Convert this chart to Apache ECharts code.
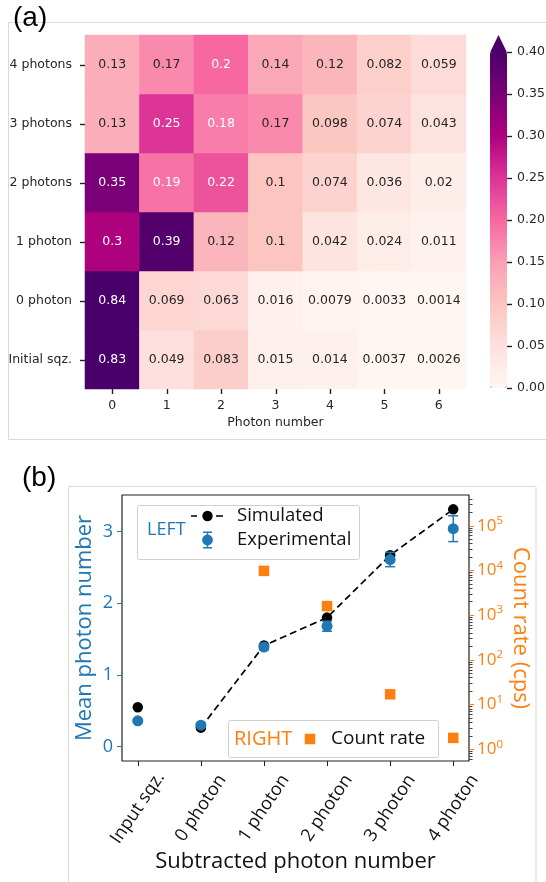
<!DOCTYPE html>
<html><head><meta charset="utf-8">
<script src="https://cdn.jsdelivr.net/npm/echarts@6/dist/echarts.min.js"></script>
<style>html,body{margin:0;padding:0;background:#fff}#c{width:546px;height:882px}</style>
</head><body><div id="c"></div>
<script>
// ---------- Panel (a) data ----------
const photonNumbers = ['0', '1', '2', '3', '4', '5', '6'];
const conditions = ['Initial sqz.', '0 photon', '1 photon', '2 photons', '3 photons', '4 photons'];
const probInitial = [0.83, 0.049, 0.083, 0.015, 0.014, 0.0037, 0.0026];
const prob0 = [0.84, 0.069, 0.063, 0.016, 0.0079, 0.0033, 0.0014];
const prob1 = [0.3, 0.39, 0.12, 0.1, 0.042, 0.024, 0.011];
const prob2 = [0.35, 0.19, 0.22, 0.1, 0.074, 0.036, 0.02];
const prob3 = [0.13, 0.25, 0.18, 0.17, 0.098, 0.074, 0.043];
const prob4 = [0.13, 0.17, 0.2, 0.14, 0.12, 0.082, 0.059];
const colorbarTicks = [0, 0.05, 0.1, 0.15, 0.2, 0.25, 0.3, 0.35, 0.4];

// ---------- Panel (b) data ----------
const subtracted = ['Input sqz.', '0 photon', '1 photon', '2 photon', '3 photon', '4 photon'];
const simulated = [0.55, 0.265, 1.41, 1.80, 2.67, 3.31];
const experimental = [0.36, 0.30, 1.39, 1.68, 2.61, 3.04];
const expError = [0.02, 0.02, 0.04, 0.07, 0.10, 0.18];
const countRate = [null, null, 9800, 1600, 17, 1.8];
const leftTicks = [0, 1, 2, 3];
const rightTicks = [1, 10, 100, 1000, 10000, 100000];

const RDPU = ['#fff7f3', '#fde0dd', '#fcc5c0', '#fa9fb5', '#f768a1', '#dd3497', '#ae017e', '#7a0177', '#49006a'];
const DJ = 'DejaVu Sans';
const SEG = '"Open Sans", "Noto Sans", sans-serif';
const BLUE = '#1f77b4', ORANGE = '#ff7f0e';
const cbMin = colorbarTicks[0], cbMax = colorbarTicks[colorbarTicks.length - 1];

const heatRows = [probInitial, prob0, prob1, prob2, prob3, prob4];
const heatData = [];
heatRows.forEach((row, yi) => row.forEach((v, xi) => {
  heatData.push({ value: [xi, yi, v], label: { color: v >= 0.18 ? '#ffffff' : '#262626' } });
}));

const minorTicks = [];
for (let e = -1; e <= 5; e++) for (let m = 2; m <= 9; m++) {
  const v = m * Math.pow(10, e);
  if (v > 0.547 && v < 4.89e5) minorTicks.push(v);
}

const anchors = (w, h) => `M0 0 L0.01 0 L0 0.01 Z M${w} ${h} L${w - 0.01} ${h} L${w} ${h - 0.01} Z`;
const circ = (cx, cy, r) => `M${cx + r} ${cy} A${r} ${r} 0 1 1 ${cx - r} ${cy} A${r} ${r} 0 1 1 ${cx + r} ${cy} Z`;
const simIcon = 'path://' + anchors(41, 17) +
  ' M0 7.75 H6 V9.25 H0 Z M25 7.75 H32 V9.25 H25 Z ' + circ(16.5, 8.5, 5.2);
const expIcon = 'path://' + anchors(41, 17) +
  ' M12 0 H21 V1.5 H12 Z M15.75 0 H17.25 V17 H15.75 Z M12 15.5 H21 V17 H12 Z ' + circ(16.5, 8.5, 5.4);
const sqIcon = 'path://' + anchors(32, 17) + ' M10.75 3.25 H21.25 V13.75 H10.75 Z';

const noLine = { show: false, onZero: false };

// tick marks drawn through the axes' own scales (side: 'bottom' | 'left' | 'right')
function tickSeries(xIdx, yIdx, data, side) {
  return {
    type: 'custom', xAxisIndex: xIdx, yAxisIndex: yIdx, data, clip: false, silent: true, z: 20,
    encode: { x: 0, y: 1 },
    renderItem: (params, api) => {
      const c = api.coord([api.value(0), api.value(1)]);
      const cs = params.coordSys;
      const L = 5;
      const px = Math.round(c[0]) + 0.5, py = Math.round(c[1]) + 0.5;
      let shape;
      if (side === 'bottom') shape = { x1: px, y1: cs.y + cs.height, x2: px, y2: cs.y + cs.height + L };
      else if (side === 'left') shape = { x1: cs.x - L, y1: py, x2: cs.x, y2: py };
      else shape = { x1: cs.x + cs.width, y1: py, x2: cs.x + cs.width + L, y2: py };
      return { type: 'line', shape, style: { stroke: '#222222', lineWidth: 1.4 } };
    }
  };
}

const chart = echarts.init(document.getElementById('c'), null, { renderer: 'canvas' });
chart.setOption({
  animation: false,
  backgroundColor: '#ffffff',
  grid: [
    { left: 85, top: 35, width: 381, height: 354, outerBoundsMode: 'none', containLabel: false },
    { left: 490, top: 52, width: 17, height: 336, outerBoundsMode: 'none', containLabel: false },
    { left: 122, top: 495, width: 347, height: 266, outerBoundsMode: 'none', containLabel: false,
      show: true, borderColor: '#222', borderWidth: 1.2, backgroundColor: 'transparent' }
  ],
  xAxis: [
    { type: 'category', gridIndex: 0, position: 'bottom', data: photonNumbers,
      axisLine: noLine, splitLine: { show: false }, axisTick: { show: false },
      axisLabel: { fontFamily: DJ, fontSize: 12.5, color: '#262626', margin: 10 },
      name: 'Photon number', nameLocation: 'middle', nameGap: 27.5, nameMoveOverlap: false,
      nameTextStyle: { fontFamily: DJ, fontSize: 12.5, color: '#262626' } },
    { type: 'value', gridIndex: 1, show: false, min: 0, max: 1, axisLine: noLine },
    { type: 'value', gridIndex: 2, position: 'bottom', min: -0.25, max: 5.25,
      axisLine: noLine, splitLine: { show: false },
      axisTick: { show: true, customValues: subtracted.map((_, i) => i), length: 5, lineStyle: { color: '#222' } },
      axisLabel: { customValues: subtracted.map((_, i) => i), formatter: v => subtracted[Math.round(v)],
        rotate: 56, align: 'center', verticalAlign: 'middle', margin: 47,
        fontFamily: SEG, fontSize: 18, color: '#111' },
      name: 'Subtracted photon number', nameLocation: 'middle', nameGap: 90, nameMoveOverlap: false,
      nameTextStyle: { fontFamily: SEG, fontSize: 22, color: '#111' } }
  ],
  yAxis: [
    { type: 'category', gridIndex: 0, position: 'left', data: conditions,
      axisLine: noLine, splitLine: { show: false }, axisTick: { show: false },
      axisLabel: { fontFamily: DJ, fontSize: 12.5, color: '#262626', margin: 13 } },
    { type: 'value', gridIndex: 1, position: 'right', min: cbMin, max: cbMax,
      axisLine: noLine, splitLine: { show: false }, axisTick: { show: false },
      axisLabel: { customValues: colorbarTicks, formatter: v => v.toFixed(2), fontFamily: DJ, fontSize: 12.5, color: '#262626', margin: 10 } },
    { type: 'value', gridIndex: 2, position: 'left', min: -0.2, max: 3.51,
      axisLine: noLine, splitLine: { show: false },
      axisTick: { show: true, customValues: leftTicks, length: 5, lineStyle: { color: BLUE } },
      axisLabel: { customValues: leftTicks, fontFamily: SEG, fontSize: 18, color: BLUE, margin: 9 },
      name: 'Mean photon number', nameLocation: 'middle', nameGap: 26, nameMoveOverlap: false,
      nameTextStyle: { fontFamily: SEG, fontSize: 22, color: BLUE } },
    { type: 'log', gridIndex: 2, position: 'right', logBase: 10, min: 0.547, max: 4.89e5,
      axisLine: noLine, splitLine: { show: false },
      axisTick: { show: true, customValues: rightTicks, length: 5, lineStyle: { color: ORANGE } },
      axisLabel: { customValues: rightTicks, margin: 8,
        formatter: v => '{b|10}{s|' + Math.round(Math.log10(v)) + '}',
        rich: {
          b: { fontFamily: SEG, fontSize: 17, color: ORANGE, lineHeight: 22 },
          s: { fontFamily: SEG, fontSize: 11.5, color: ORANGE, lineHeight: 12, verticalAlign: 'top' }
        } },
      name: 'Count rate (cps)', nameLocation: 'middle', nameRotate: -90, nameGap: 40, nameMoveOverlap: false,
      nameTextStyle: { fontFamily: SEG, fontSize: 22, color: ORANGE } },
    { type: 'log', gridIndex: 2, position: 'right', logBase: 10, min: 0.547, max: 4.89e5,
      axisLine: noLine, splitLine: { show: false }, axisLabel: { show: false },
      axisTick: { show: true, customValues: minorTicks, length: 3.5, lineStyle: { color: '#444', width: 1 } } }
  ],
  visualMap: {
    type: 'continuous', seriesIndex: 0, dimension: 2, min: cbMin, max: cbMax,
    calculable: false, show: true, left: 490, top: 52, padding: 0, itemWidth: 17, itemHeight: 336,
    inRange: { color: RDPU }, outOfRange: { color: ['#49006a'] }, hoverLink: false
  },
  legend: [
    { left: 191, top: 506, orient: 'vertical', padding: 0, itemGap: 4, itemWidth: 41, itemHeight: 17,
      selectedMode: false, z: 8,
      data: [{ name: 'Simulated', icon: simIcon }, { name: 'Experimental', icon: expIcon }],
      textStyle: { fontFamily: SEG, fontSize: 18.5, color: '#111', lineHeight: 20 } },
    { left: 294, top: 729, padding: 0, itemWidth: 32, itemHeight: 17, selectedMode: false, z: 8,
      data: [{ name: 'Count rate', icon: sqIcon }],
      textStyle: { fontFamily: SEG, fontSize: 19, color: '#111', lineHeight: 20 } }
  ],
  series: [
    { type: 'heatmap', xAxisIndex: 0, yAxisIndex: 0, data: heatData,
      label: { show: true, fontFamily: DJ, fontSize: 12.5, formatter: p => String(p.value[2]) },
      itemStyle: { borderWidth: 0 }, emphasis: { disabled: true } },
    tickSeries(0, 0, photonNumbers.map((_, i) => [i, 0]), 'bottom'),
    tickSeries(0, 0, conditions.map((_, i) => [0, i]), 'left'),
    tickSeries(1, 1, colorbarTicks.map(v => [0, v]), 'right'),
    { type: 'line', name: 'Simulated', xAxisIndex: 2, yAxisIndex: 2,
      data: simulated.slice(1).map((v, i) => [i + 1, v]),
      lineStyle: { color: '#000', width: 1.7, type: [7, 4] },
      symbol: 'circle', symbolSize: 10.5, itemStyle: { color: '#000' }, z: 3 },
    { type: 'scatter', name: 'Simulated input', xAxisIndex: 2, yAxisIndex: 2,
      data: [[0, simulated[0]]], symbolSize: 10.5, itemStyle: { color: '#000', opacity: 1 }, z: 3 },
    { type: 'custom', name: 'Experimental error', xAxisIndex: 2, yAxisIndex: 2,
      data: experimental.map((v, i) => [i, v - expError[i], v + expError[i]]),
      encode: { x: 0, y: [1, 2] }, z: 4,
      renderItem: (params, api) => {
        const x = api.value(0);
        const lo = api.coord([x, api.value(1)]);
        const hi = api.coord([x, api.value(2)]);
        const cw = 5;
        const st = { stroke: BLUE, lineWidth: 1.5 };
        return { type: 'group', children: [
          { type: 'line', shape: { x1: lo[0], y1: lo[1], x2: hi[0], y2: hi[1] }, style: st },
          { type: 'line', shape: { x1: lo[0] - cw, y1: lo[1], x2: lo[0] + cw, y2: lo[1] }, style: st },
          { type: 'line', shape: { x1: hi[0] - cw, y1: hi[1], x2: hi[0] + cw, y2: hi[1] }, style: st }
        ] };
      } },
    { type: 'scatter', name: 'Experimental', xAxisIndex: 2, yAxisIndex: 2,
      data: experimental.map((v, i) => [i, v]), symbolSize: 11,
      itemStyle: { color: BLUE, opacity: 1 }, z: 5 },
    { type: 'scatter', name: 'Count rate', xAxisIndex: 2, yAxisIndex: 3,
      data: countRate.map((v, i) => (v == null ? null : [i, v])).filter(d => d),
      symbol: 'rect', symbolSize: 10.5, itemStyle: { color: ORANGE, opacity: 1 }, z: 4 }
  ],
  graphic: [
    { type: 'rect', shape: { x: 8.5, y: 22.5, width: 540, height: 417 }, style: { fill: 'none', stroke: '#d9d9d9', lineWidth: 1 }, z: 0, silent: true },
    { type: 'rect', shape: { x: 68.5, y: 486.5, width: 467.5, height: 410 }, style: { fill: 'none', stroke: '#d9d9d9', lineWidth: 1 }, z: 0, silent: true },
    { type: 'polygon', shape: { points: [[490, 52.5], [498.5, 35], [507, 52.5]] }, style: { fill: '#49006a' }, silent: true },
    { type: 'text', x: 13, y: 18, style: { text: '(a)', font: '28px "Liberation Sans", Arial, sans-serif', fill: '#000', verticalAlign: 'middle' } },
    { type: 'text', x: 22, y: 478.5, style: { text: '(b)', font: '28px "Liberation Sans", Arial, sans-serif', fill: '#000', verticalAlign: 'middle' } },
    { type: 'rect', shape: { x: 137.5, y: 505.5, width: 222, height: 54, r: 2 }, style: { fill: 'rgba(255,255,255,0.85)', stroke: '#d0d0d0', lineWidth: 1 }, z: 7, silent: true },
    { type: 'text', x: 147, y: 530, z: 8, style: { text: 'LEFT', font: '18px "Open Sans"', fill: BLUE, verticalAlign: 'middle' } },
    { type: 'rect', shape: { x: 228.5, y: 720.5, width: 210, height: 37, r: 2 }, style: { fill: 'rgba(255,255,255,0.85)', stroke: '#d0d0d0', lineWidth: 1 }, z: 7, silent: true },
    { type: 'text', x: 234, y: 739.5, z: 8, style: { text: 'RIGHT', font: '20px "Open Sans"', fill: ORANGE, verticalAlign: 'middle' } }
  ]
});
</script>
</body></html>
